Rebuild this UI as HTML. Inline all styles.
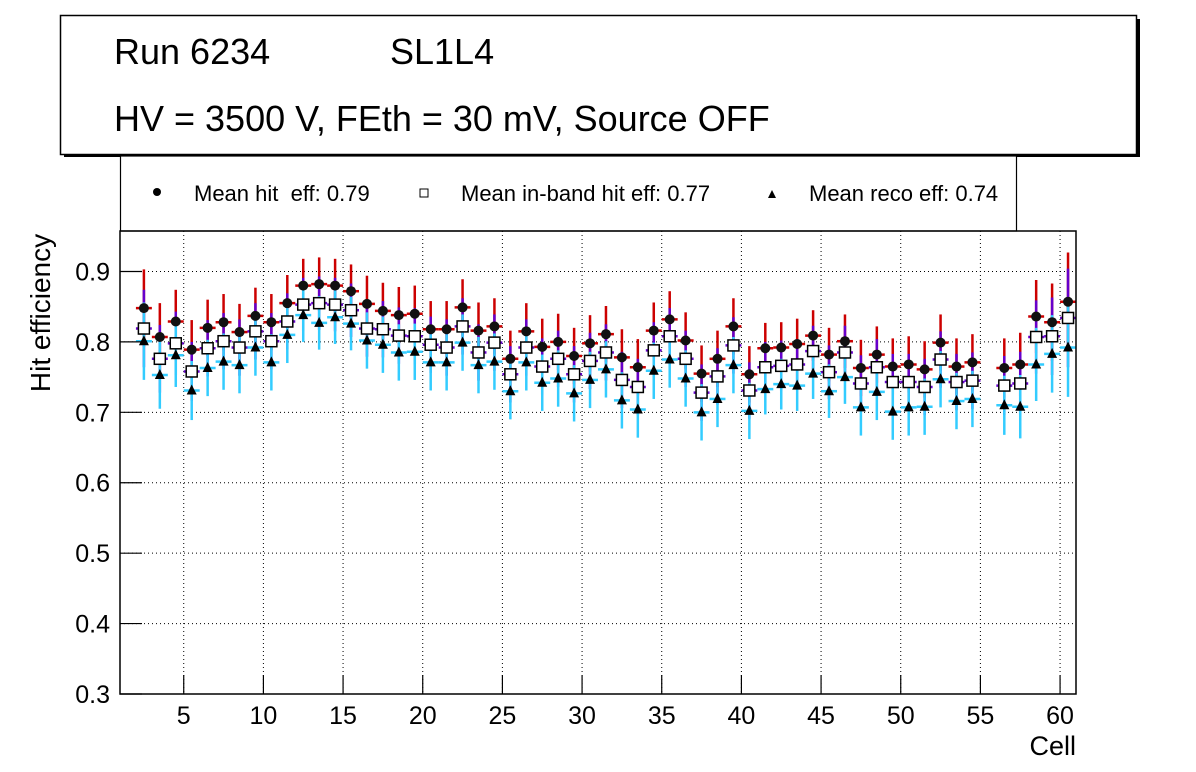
<!DOCTYPE html>
<html><head><meta charset="utf-8"><style>
html,body{margin:0;padding:0;background:#fff;}
svg{display:block;font-family:"Liberation Sans",sans-serif;}
</style></head><body>
<svg id="chart" width="1196" height="772" viewBox="0 0 1196 772">
<rect x="0" y="0" width="1196" height="772" fill="#fff"/>
<g>
<rect x="64" y="19" width="1076" height="138" fill="#000"/>
<rect x="60.5" y="15.5" width="1076" height="139" fill="#fff" stroke="#000" stroke-width="1.5"/>
<text x="114" y="64" font-size="36">Run 6234</text>
<text x="390" y="64" font-size="36">SL1L4</text>
<text x="114" y="131" font-size="36">HV = 3500 V, FEth = 30 mV, Source OFF</text>
</g>
<g>
<rect x="120.5" y="156" width="896" height="75" fill="#fff" stroke="#000" stroke-width="1.2"/>
<g>
<circle cx="157" cy="192" r="4" fill="#000"/>
<text x="194" y="201" font-size="22" style="white-space:pre">Mean hit  eff: 0.79</text></g>
<g>
<rect x="420" y="189" width="8" height="8" fill="#fff" stroke="#000" stroke-width="1"/>
<text x="461" y="201" font-size="22">Mean in-band hit eff: 0.77</text></g>
<g>
<path d="M768,198 L776,198 L772,190 Z" fill="#000"/>
<text x="809" y="201" font-size="22">Mean reco eff: 0.74</text></g>
</g>
<g id="grid"></g>
<g id="marks"></g>
<rect x="120" y="231" width="956" height="463" fill="none" stroke="#000" stroke-width="1.5"/>
<g id="axes"></g>
<text x="50" y="313" font-size="28" text-anchor="middle" transform="rotate(-90 50 313)">Hit efficiency</text>
<text x="1076" y="755" font-size="27" text-anchor="end">Cell</text>
</svg>
<script>
const cells = [2,3,4,5,6,7,8,9,10,11,12,13,14,15,16,17,18,19,20,21,22,23,24,25,26,27,28,29,30,31,32,33,34,35,36,37,38,39,40,41,42,43,44,45,46,47,48,49,50,51,52,53,54,56,57,58,59,60];
const hitEff = [0.848,0.807,0.829,0.789,0.820,0.828,0.814,0.837,0.828,0.855,0.880,0.882,0.880,0.872,0.854,0.844,0.838,0.840,0.818,0.818,0.849,0.816,0.822,0.776,0.815,0.793,0.800,0.780,0.798,0.811,0.778,0.764,0.816,0.832,0.802,0.755,0.776,0.822,0.754,0.791,0.792,0.797,0.809,0.782,0.801,0.763,0.782,0.765,0.768,0.761,0.799,0.765,0.771,0.763,0.768,0.836,0.828,0.857];
const inbandEff = [0.819,0.776,0.798,0.758,0.791,0.801,0.792,0.815,0.801,0.829,0.853,0.855,0.853,0.845,0.819,0.818,0.809,0.808,0.796,0.792,0.822,0.785,0.799,0.754,0.792,0.765,0.776,0.754,0.773,0.785,0.746,0.736,0.788,0.808,0.776,0.728,0.751,0.795,0.731,0.764,0.766,0.768,0.787,0.757,0.785,0.741,0.764,0.743,0.743,0.736,0.775,0.743,0.745,0.738,0.741,0.807,0.808,0.834];
const recoEff = [0.801,0.753,0.781,0.731,0.763,0.772,0.767,0.792,0.771,0.810,0.838,0.827,0.835,0.826,0.802,0.796,0.785,0.786,0.771,0.771,0.799,0.767,0.772,0.730,0.771,0.742,0.748,0.727,0.746,0.761,0.717,0.704,0.759,0.775,0.748,0.700,0.719,0.767,0.702,0.733,0.740,0.738,0.755,0.730,0.750,0.707,0.729,0.701,0.707,0.708,0.747,0.716,0.719,0.710,0.708,0.768,0.783,0.792];
const errs = [0.055,0.048,0.045,0.042,0.040,0.040,0.040,0.040,0.040,0.040,0.038,0.038,0.038,0.038,0.040,0.040,0.040,0.040,0.040,0.040,0.040,0.040,0.040,0.040,0.040,0.040,0.040,0.040,0.040,0.040,0.040,0.040,0.040,0.040,0.040,0.040,0.040,0.040,0.040,0.036,0.036,0.036,0.036,0.038,0.038,0.040,0.040,0.040,0.040,0.040,0.040,0.040,0.040,0.042,0.045,0.052,0.055,0.070];
const yTicks = [0.3,0.4,0.5,0.6,0.7,0.8,0.9];
const xTicks = [5,10,15,20,25,30,35,40,45,50,55,60];

const NS="http://www.w3.org/2000/svg";
const X0=120,X1=1076,Y0=694,Y1=231,XMIN=1,XMAX=61,YMIN=0.3,YMAX=0.9575;
function sx(v){return X0+(v-XMIN)/(XMAX-XMIN)*(X1-X0);}
function sy(v){return Y0-(v-YMIN)/(YMAX-YMIN)*(Y0-Y1);}
function mk(tag,attrs,parent){const e=document.createElementNS(NS,tag);for(const k in attrs)e.setAttribute(k,attrs[k]);parent.appendChild(e);return e;}
const grid=document.getElementById('grid'),axes=document.getElementById('axes'),marks=document.getElementById('marks');
yTicks.forEach(t=>{
  const y=sy(t);
  if(t>YMIN){const g=mk('line',{x1:X0,x2:X1,y1:y,y2:y,stroke:'#000','stroke-width':1,'stroke-dasharray':'1,3'},grid);
  
  }
  const tk=mk('line',{x1:X0,x2:X0+22,y1:y,y2:y,stroke:'#000','stroke-width':1.2},axes);
  
  
  const lb=mk('text',{x:X0-10,y:y+9,'font-size':25,'text-anchor':'end'},axes);
  lb.textContent=t.toFixed(1);
  
  
});
xTicks.forEach(t=>{
  const x=sx(t);
  const g=mk('line',{x1:x,x2:x,y1:Y1,y2:Y0,stroke:'#000','stroke-width':1,'stroke-dasharray':'1,3'},grid);
  
  
  const tk=mk('line',{x1:x,x2:x,y1:Y0,y2:Y0-19,stroke:'#000','stroke-width':1.2},axes);
  
  
  const lb=mk('text',{x:x,y:Y0+30,'font-size':25,'text-anchor':'middle'},axes);
  lb.textContent=t;
  
  
});
const series=[{v:hitEff,c:'#cc0000',n:'hit'},{v:inbandEff,c:'#6600cc',n:'inband'},{v:recoEff,c:'#33ccff',n:'reco'}];
series.forEach(s=>{
  cells.forEach((c,i)=>{
    const x=sx(c+0.5),xl=sx(c),xr=sx(c+1),y=sy(s.v[i]),e=errs[i];
    const v=mk('line',{x1:x,x2:x,y1:sy(s.v[i]+e),y2:sy(s.v[i]-e),stroke:s.c,'stroke-width':2.5},marks);
    
    
    const h=mk('line',{x1:xl,x2:xr,y1:y,y2:y,stroke:s.c,'stroke-width':2.5},marks);
    
    
  });
});
cells.forEach((c,i)=>{
  const x=sx(c+0.5);
  const ci=mk('circle',{cx:x,cy:sy(hitEff[i]),r:5,fill:'#111'},marks);
  
  
  const y2=sy(inbandEff[i]);
  const sq=mk('rect',{x:x-5.5,y:y2-5.5,width:11,height:11,fill:'#fff',stroke:'#000','stroke-width':1.5},marks);
  
  
  const y3=sy(recoEff[i]);
  const tr=mk('path',{d:`M${x-5},${y3+4} L${x+5},${y3+4} L${x},${y3-6} Z`,fill:'#000'},marks);
  
  
});
</script>
</body></html>
